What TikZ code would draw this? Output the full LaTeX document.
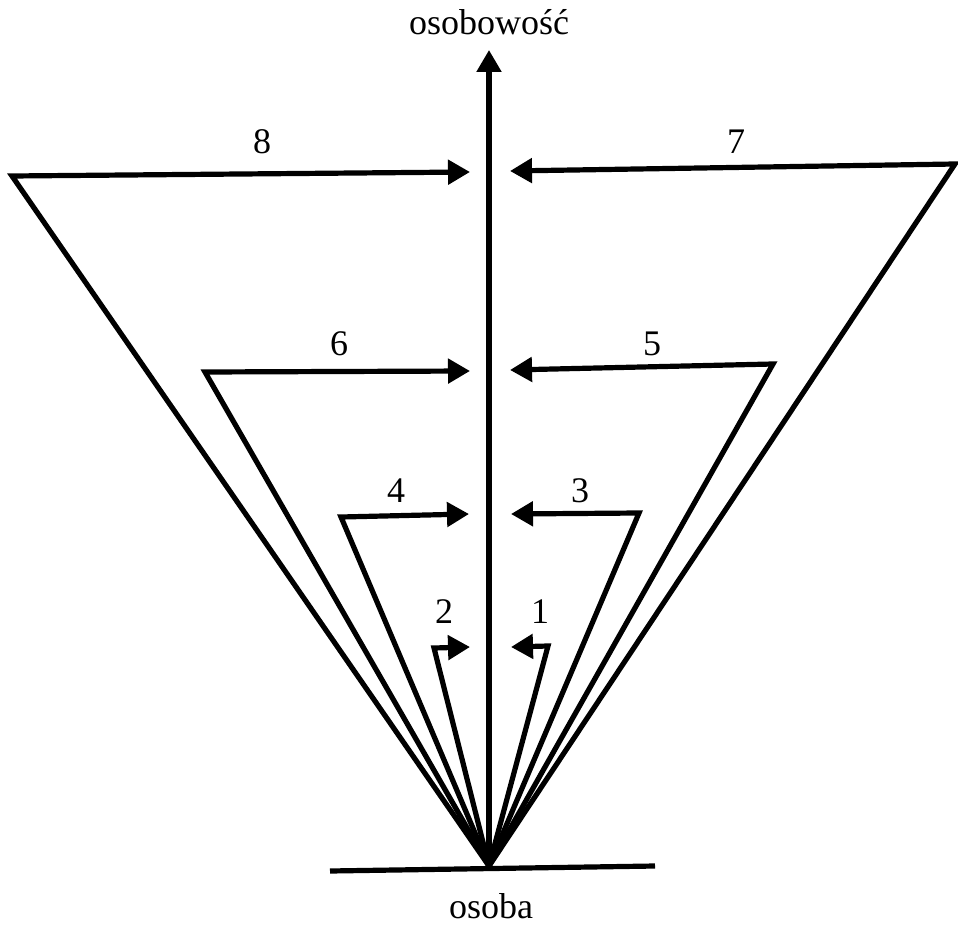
\documentclass[tikz,border=0pt]{standalone}
\usepackage{fontspec}
\setmainfont{Liberation Serif}
\usetikzlibrary{arrows.meta}

\begin{document}
\begin{tikzpicture}[x=0.5pt, y=-0.5pt, line width=2.6pt,
    >={Triangle[length=11pt, width=12pt]},
    lbl/.style={font=\fontsize{18}{20}\selectfont, inner sep=0pt}]
        \useasboundingbox (0,0) rectangle (958,925);

        % ---- points ----
        \coordinate (apex) at (489,866);
        \coordinate (top) at (489,50);
        \coordinate (baseL) at (330,871);
        \coordinate (baseR) at (655,866);

        % corners of the brackets
        \coordinate (c8) at (12,176);
        \coordinate (c7) at (955,164);
        \coordinate (c6) at (205,372);
        \coordinate (c5) at (773,364);
        \coordinate (c4) at (341,517);
        \coordinate (c3) at (639,513);
        \coordinate (c2) at (434,648);
        \coordinate (c1) at (548,646);

        % arrow tips next to the axis
        \coordinate (e8) at (470,172);
        \coordinate (e7) at (510,171);
        \coordinate (e6) at (470,371);
        \coordinate (e5) at (510,370);
        \coordinate (e4) at (469,514);
        \coordinate (e3) at (511,514);
        \coordinate (e2) at (470,647);
        \coordinate (e1) at (511,647);

        % ---- base and axis ----
        \draw (baseL) -- (baseR);
        \draw[->] (apex) -- (top);

        % ---- brackets ----
        \draw[->] (apex) -- (c8) -- (e8);
        \draw[->] (apex) -- (c7) -- (e7);
        \draw[->] (apex) -- (c6) -- (e6);
        \draw[->] (apex) -- (c5) -- (e5);
        \draw[->] (apex) -- (c4) -- (e4);
        \draw[->] (apex) -- (c3) -- (e3);
        \draw[->] (apex) -- (c2) -- (e2);
        \draw[->] (apex) -- (c1) -- (e1);

        % ---- labels ----
        \node[lbl] (osobowosc) at (489,22) {osobowość};
        \node[lbl] (osoba) at (491,906) {osoba};
        \node[lbl] (n8) at (262,142) {8};
        \node[lbl] (n7) at (736,142) {7};
        \node[lbl] (n6) at (339,344) {6};
        \node[lbl] (n5) at (652,344) {5};
        \node[lbl] (n4) at (396,491) {4};
        \node[lbl] (n3) at (580,491) {3};
        \node[lbl] (n2) at (444,612) {2};
        \node[lbl] (n1) at (540,612) {1};
    \end{tikzpicture}
\end{document}
